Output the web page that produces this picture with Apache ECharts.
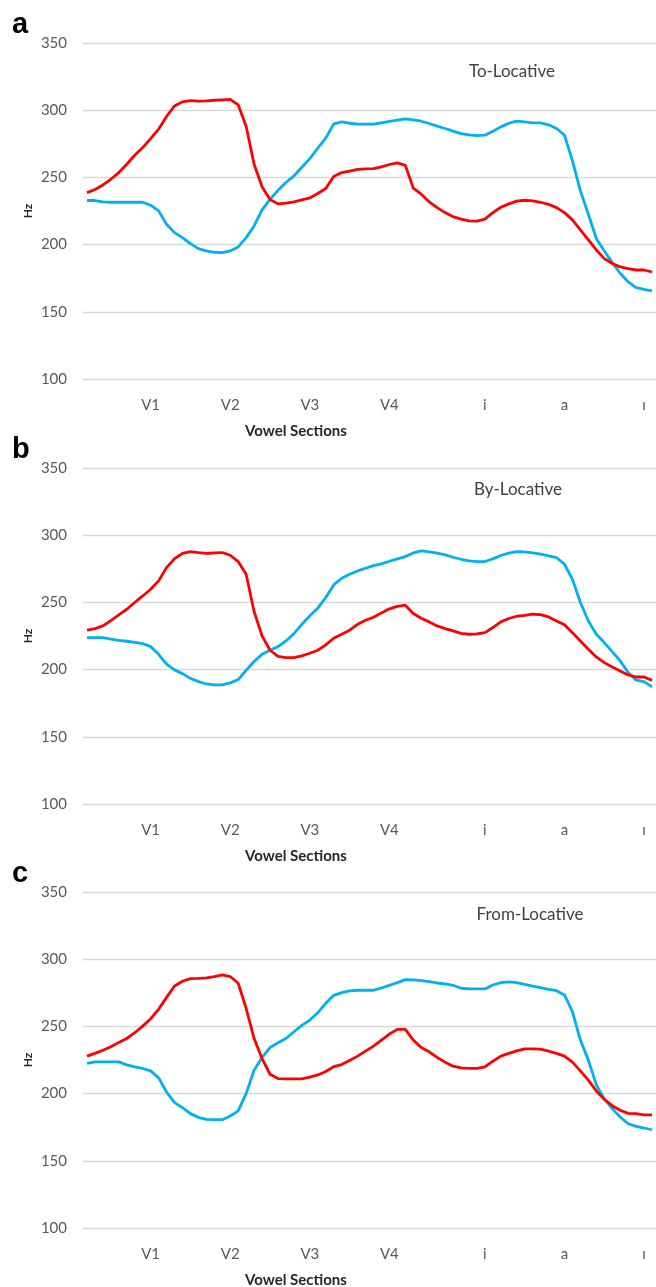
<!DOCTYPE html>
<html>
<head>
<meta charset="utf-8">
<script src="https://cdn.jsdelivr.net/npm/echarts@6/dist/echarts.min.js"></script>
<style>
html,body{margin:0;padding:0;background:#fff;}
#chart{width:656px;height:1287px;}
</style>
</head>
<body>
<div id="chart"></div>
<script>
// Category ticks (one per sample point); labelled sections
const sectionLabels = {8:'V1', 18:'V2', 28:'V3', 38:'V4', 50:'i', 60:'a', 70:'ı'};
const nPoints = 72;
const categories = [];
for (let i = 0; i < nPoints; i++) categories.push(sectionLabels[i] || '');

const yTicks = [100, 150, 200, 250, 300, 350];
const panelTitles = ['To-Locative', 'By-Locative', 'From-Locative'];
const panelLetters = ['a', 'b', 'c'];
const xAxisTitle = 'Vowel Sections';
const yAxisTitle = 'Hz';

// Panel a: To-Locative
const redA = [238.7,241,244.4,248.6,253.6,259.8,266.5,272.2,278.9,285.9,295.3,303.2,306.2,307.2,306.7,307,307.4,307.7,308,304,288,259.8,243,233.5,230.3,230.8,231.8,233.3,234.7,238,241.7,250.6,253.6,254.6,256,256.3,256.6,257.8,259.6,260.8,259,242,237.5,231.8,227.5,223.8,220.8,218.9,217.6,217.4,218.9,223.8,227.8,230.3,232.3,233,232.5,231.5,230,227.5,223.8,218.4,211,203.5,196,189.6,185.9,183.4,182.1,181.1,181.1,179.6];
const blueA = [232.8,232.8,231.8,231.5,231.5,231.5,231.5,231.5,229.3,225.1,215.1,208.9,205.2,200.7,197,195.3,194.3,194,195.3,198.3,205.2,213.9,225.8,233.7,240.4,246.2,251.1,257.6,264,271.7,279.2,289.8,291.3,290.3,289.6,289.6,289.6,290.6,291.6,292.6,293.5,292.8,291.8,290.1,288.1,286.4,284.4,282.6,281.6,281.1,281.4,284.4,287.6,290.3,291.8,291.3,290.6,290.6,289.1,286.4,281.4,262.3,240,222.6,204.5,195.3,186.6,178.7,172.2,168,166.7,165.5];

// Panel b: By-Locative
const redB = [229.3,230.5,232.5,236.5,240.7,244.9,249.9,254.8,259.8,266,275.9,282.6,286.4,287.8,287.1,286.4,286.8,287.1,285.1,280.4,271,243.2,225.1,214.4,209.9,208.9,208.9,210.2,212.2,214.4,218.4,223.3,226.3,229.3,233.7,236.7,239,242.2,245.2,247.1,247.9,241.7,238.2,235.5,232.5,230.5,228.8,227,226.3,226.6,227.5,231.3,235.5,238,239.7,240.4,241.2,240.9,239.2,236.2,233.3,227.5,221.3,215.1,209.4,205.2,202,199,196,194.5,194.5,192];
const blueB = [223.8,223.8,223.8,222.6,221.8,221.1,220.3,219.4,217.1,211.4,204,199.8,197,193.5,191.1,189.3,188.6,188.6,190.1,192.6,199.5,206,211.4,214.4,217.1,221.3,226.8,233.7,240,245.7,253.6,263,268,271,273.4,275.4,277.4,278.7,280.6,282.4,284.1,286.8,288.3,287.6,286.6,285.4,283.6,282.1,280.9,280.4,280.4,282.4,284.9,286.6,287.8,287.6,286.8,285.9,284.6,283.4,278.4,267.2,249.9,236.2,226.3,220.1,213.4,206.5,197.8,192.1,191.1,187.1];

// Panel c: From-Locative
const redC = [227.9,229.9,232.3,234.8,238.1,241,245.3,250.2,255.7,262.7,271.6,280.1,283.6,285.6,285.8,286.1,287.1,288.3,287.1,282.1,263.4,241,226.1,214.4,211.2,210.9,210.9,210.9,212.2,213.9,216.4,220.1,221.6,224.6,227.9,231.6,235.3,239.8,244.3,247.8,247.8,239.8,234.3,231.1,226.9,223.4,220.4,219.2,218.7,218.7,219.9,224.1,227.9,229.9,231.8,233.3,233.3,233.1,231.6,229.9,227.9,223.4,216.9,210,202,195.8,191,187.6,185.3,185.1,184.1,184.1];
const blueC = [222.4,223.6,223.6,223.6,223.6,221.4,219.9,218.7,216.9,211.7,201.2,193.3,189.6,185.1,182.3,180.8,180.6,180.6,183.3,187.1,200,217.4,226.9,234.3,237.8,241,246,250.7,254.7,260.2,267.2,273.1,275.1,276.4,276.9,276.9,276.9,278.6,280.6,282.6,284.8,284.6,284.1,283.3,282.3,281.6,280.6,278.4,277.9,277.9,277.9,280.8,282.6,283.1,282.6,281.3,279.9,278.9,277.6,276.6,273.4,260.9,239.8,224.9,206.7,196,188.8,182.6,177.6,175.6,174.4,173.1];

const panels = [
  {red: redA, blue: blueA},
  {red: redB, blue: blueB},
  {red: redC, blue: blueC}
];

const FONT = 'Lato, "Liberation Sans", sans-serif';
const panelTops = [43, 468, 892];
const plotH = 336;

const grids = [], xAxes = [], yAxes = [], series = [], graphics = [];
panels.forEach((p, i) => {
  const top = panelTops[i];
  grids.push({left: 83, top: top, width: 576, height: plotH, containLabel: false});
  xAxes.push({
    type: 'category', gridIndex: i, data: categories, boundaryGap: true,
    axisLine: {show: false}, axisTick: {show: false},
    axisLabel: {interval: 0, color: '#595959', fontSize: 15, fontFamily: FONT, margin: 19},
    splitLine: {show: false}
  });
  yAxes.push({
    type: 'value', gridIndex: i, min: yTicks[0], max: yTicks[yTicks.length - 1], interval: 50,
    axisLine: {show: false}, axisTick: {show: false},
    axisLabel: {color: '#595959', fontSize: 15, fontFamily: FONT, margin: 16},
    splitLine: {lineStyle: {color: '#d9d9d9', width: 1.3}}
  });
  series.push({
    type: 'line', xAxisIndex: i, yAxisIndex: i, data: p.blue, showSymbol: false,
    lineStyle: {color: '#00b0f0', width: 2.8}, itemStyle: {color: '#00b0f0'}, z: 2
  });
  series.push({
    type: 'line', xAxisIndex: i, yAxisIndex: i, data: p.red, showSymbol: false,
    lineStyle: {color: '#ff0000', width: 2.8}, itemStyle: {color: '#ff0000'}, z: 3
  });
  graphics.push({type: 'text', left: 12, top: top - 33,
    style: {text: panelLetters[i], font: 'bold 29px "Liberation Sans", Arial, sans-serif', fill: '#000'}});
  graphics.push({type: 'text', x: 28, y: top + plotH / 2, rotation: Math.PI / 2,
    style: {text: yAxisTitle, font: 'bold 12px ' + FONT, fill: '#262626', align: 'center', verticalAlign: 'middle'}});
  graphics.push({type: 'text', x: 296, y: top + plotH + 52,
    style: {text: xAxisTitle, font: 'bold 15px ' + FONT, fill: '#262626', align: 'center', verticalAlign: 'middle'}});
});
graphics.push({type: 'text', x: 512, y: 72, style: {text: panelTitles[0], font: '17px ' + FONT, fill: '#404040', align: 'center', verticalAlign: 'middle'}});
graphics.push({type: 'text', x: 518, y: 490, style: {text: panelTitles[1], font: '17px ' + FONT, fill: '#404040', align: 'center', verticalAlign: 'middle'}});
graphics.push({type: 'text', x: 530, y: 915, style: {text: panelTitles[2], font: '17px ' + FONT, fill: '#404040', align: 'center', verticalAlign: 'middle'}});

const chart = echarts.init(document.getElementById('chart'), null, {renderer: 'canvas'});
chart.setOption({
  animation: false,
  backgroundColor: '#ffffff',
  grid: grids, xAxis: xAxes, yAxis: yAxes, series: series, graphic: graphics
});
</script>
</body>
</html>
